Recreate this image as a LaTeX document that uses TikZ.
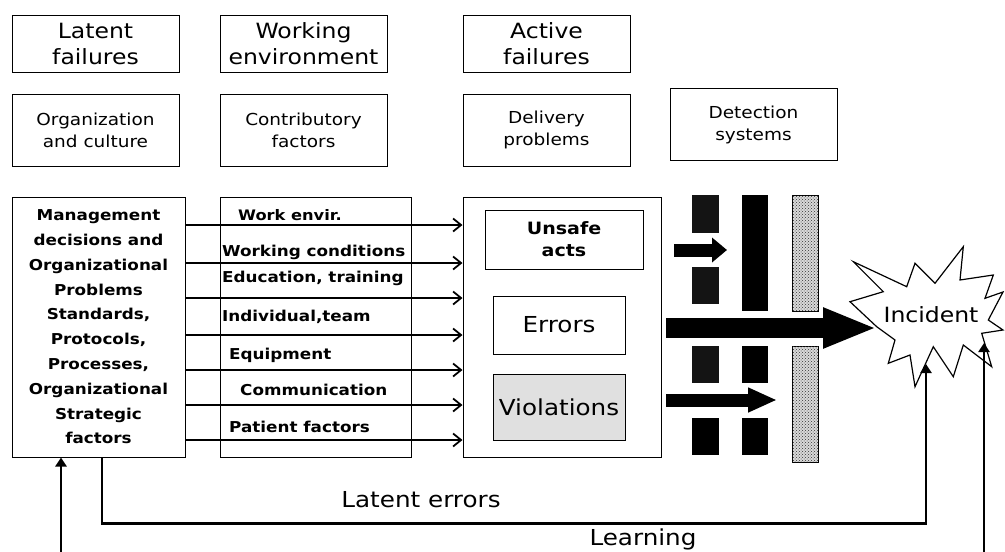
\documentclass[tikz,border=0pt]{standalone}
\usepackage{fontspec}
\setmainfont[FakeStretch=1.12]{DejaVu Sans}
\usetikzlibrary{positioning, arrows.meta, patterns}
\tikzset{
    titlebox/.style={rectangle, draw=black, line width=1pt, minimum width=167pt, minimum height=57pt, inner sep=2pt, align=center, font=\fontsize{21}{26}\selectfont},
    levelbox/.style={rectangle, draw=black, line width=1pt, minimum width=167pt, minimum height=72pt, inner sep=2pt, align=center, font=\fontsize{16.5}{22}\selectfont},
    bigbox/.style={rectangle, draw=black, line width=1pt, minimum height=260pt, inner sep=2pt, align=center},
    factor/.style={inner sep=0pt, font=\bfseries\fontsize{15}{16}\selectfont},
    flow/.style={line width=1.8pt, -{Straight Barb[length=8pt, width=13pt, line width=1.8pt]}},
    feedback/.style={line width=2.6pt, -{Triangle[length=9pt, width=11pt]}},
    darkbar/.style={fill=black!92},
    blackbar/.style={fill=black},
    checkbar/.style={draw=black, line width=1pt, fill=black!15, postaction={pattern=crosshatch dots, pattern color=black!80}},
    burst/.style={draw=black, line width=1.2pt, fill=white, line join=miter}
}

\begin{document}
\begin{tikzpicture}[x=1pt, y=-1pt]
    \useasboundingbox (0,0) rectangle (1005,552);

    % --- header row ---
    \node[titlebox] (latent) at (95.5,43.5) {Latent\\failures};
    \node[titlebox, right=40pt of latent] (workenv) {Working\\environment};
    \node[titlebox, right=75pt of workenv] (activef) {Active\\failures};

    % --- second row ---
    \node[levelbox, below=21pt of latent] (org) {Organization\\and culture};
    \node[levelbox, below=21pt of workenv] (contrib) {Contributory\\factors};
    \node[levelbox, below=21pt of activef] (delivery) {Delivery\\problems};
    \node[levelbox, right=39pt of delivery, yshift=5.5pt] (detect) {Detection\\systems};

    % --- main row ---
    \node[bigbox, minimum width=173pt, below=30pt of org.south west, anchor=north west,
          font=\bfseries\fontsize{15}{24.8}\selectfont] (mgmt)
        {Management\\decisions and\\Organizational\\Problems\\Standards,\\Protocols,\\Processes,\\Organizational\\Strategic\\factors};
    \node[bigbox, minimum width=191pt, right=34pt of mgmt] (factors) {};
    \node[bigbox, minimum width=198pt, right=51pt of factors] (active) {};

    % factor labels
    \node[factor, font=\bfseries\fontsize{14.5}{16}\selectfont] (envir) at (290,215) {Work envir.};
    \node[factor, anchor=west] (cond) at (222,252) {Working conditions};
    \node[factor, anchor=west] (edu) at (222,278) {Education, training};
    \node[factor, anchor=west] (team) at (222,317) {Individual,team};
    \node[factor, anchor=west] (equip) at (229,355) {Equipment};
    \node[factor, anchor=west] (comm) at (240,390) {Communication};
    \node[factor, anchor=west] (patient) at (229,427) {Patient factors};

    % inside active failures
    \node[rectangle, draw=black, line width=1pt, minimum width=158pt, minimum height=59pt, align=center,
          font=\bfseries\fontsize{17}{22}\selectfont] (unsafe) at (564,239.5) {Unsafe\\acts};
    \node[rectangle, draw=black, line width=1pt, minimum width=132pt, minimum height=58pt,
          font=\fontsize{22}{24}\selectfont] (errors) at (559,325) {Errors};
    \node[rectangle, draw=black, line width=1pt, fill=black!12, minimum width=132pt, minimum height=66pt,
          font=\fontsize{22}{24}\selectfont] (violations) at (559,407) {Violations};

    % factor arrows
    \draw[flow] ([yshift=102pt]mgmt.east) -- ([yshift=102pt]active.west);
    \draw[flow] ([yshift=64pt]mgmt.east) -- ([yshift=64pt]active.west);
    \draw[flow] ([yshift=29pt]mgmt.east) -- ([yshift=29pt]active.west);
    \draw[flow] ([yshift=-8pt]mgmt.east) -- ([yshift=-8pt]active.west);
    \draw[flow] ([yshift=-43pt]mgmt.east) -- ([yshift=-43pt]active.west);
    \draw[flow] ([yshift=-78pt]mgmt.east) -- ([yshift=-78pt]active.west);
    \draw[flow] ([yshift=-113pt]mgmt.east) -- ([yshift=-113pt]active.west);

    % --- barriers ---
    \fill[darkbar] (692,195) rectangle (719,233);
    \fill[darkbar] (692,267) rectangle (719,304);
    \fill[darkbar] (692,346) rectangle (719,383);
    \fill[blackbar] (692,418) rectangle (719,455);
    \fill[blackbar] (742,195) rectangle (768,311);
    \fill[blackbar] (742,346) rectangle (768,383);
    \fill[blackbar] (742,418) rectangle (768,455);
    \path[checkbar] (792,195) rectangle (818,311);
    \path[checkbar] (792,346) rectangle (818,462);

    % --- incident ---
    \draw[burst] (876.7,326.7) -- (850,301.7) -- (883.3,291.7) -- (853.3,261.7) -- (906.7,286.7)
        -- (915,263.3) -- (935,283.3) -- (963.3,246.7) -- (960,280) -- (993.3,275) -- (985,298.3)
        -- (1003,292) -- (988.3,320) -- (1003,330) -- (981.7,333.3) -- (991.7,366.7) -- (963.3,345)
        -- (953.3,376.7) -- (933.3,346.7) -- (915,386.7) -- (910,355) -- (888.3,363.3) -- (895,340) -- cycle;
    \node[font=\fontsize{21}{24}\selectfont, inner sep=0pt] (incident) at (931,315) {Incident};
    \coordinate (starL) at (877,328);
    \coordinate (starB) at (926,364);
    \coordinate (starR) at (984,343);

    % --- block arrows ---
    \coordinate (actA) at (674,250);
    \coordinate (actB) at (727,250);
    \coordinate (errA) at (666,328);
    \coordinate (violA) at (666,400);
    \coordinate (violB) at (777,400);
    \draw[line width=13pt, -{Triangle[length=15pt, width=24pt]}] (actA) -- (actB);
    \draw[line width=20pt, -{Triangle[length=54pt, width=37pt]}] (errA) -- (starL);
    \draw[line width=13pt, -{Triangle[length=29pt, width=23pt]}] (violA) -- (violB);

    % --- feedback loops ---
    \coordinate (learnL) at (61,552);
    \coordinate (learnR) at (984,552);
    \draw[feedback] ([xshift=3.5pt]mgmt.south) -- ++(0,66) -| (starB);
    \draw[feedback] (learnR) -- (starR);
    \draw[feedback] (learnL) -- (learnL |- mgmt.south);
    \node[font=\fontsize{22}{24}\selectfont] (laterr) at (421,500) {Latent errors};
    \node[font=\fontsize{22}{24}\selectfont] (learning) at (643,539) {Learning};

\end{tikzpicture}
\end{document}
